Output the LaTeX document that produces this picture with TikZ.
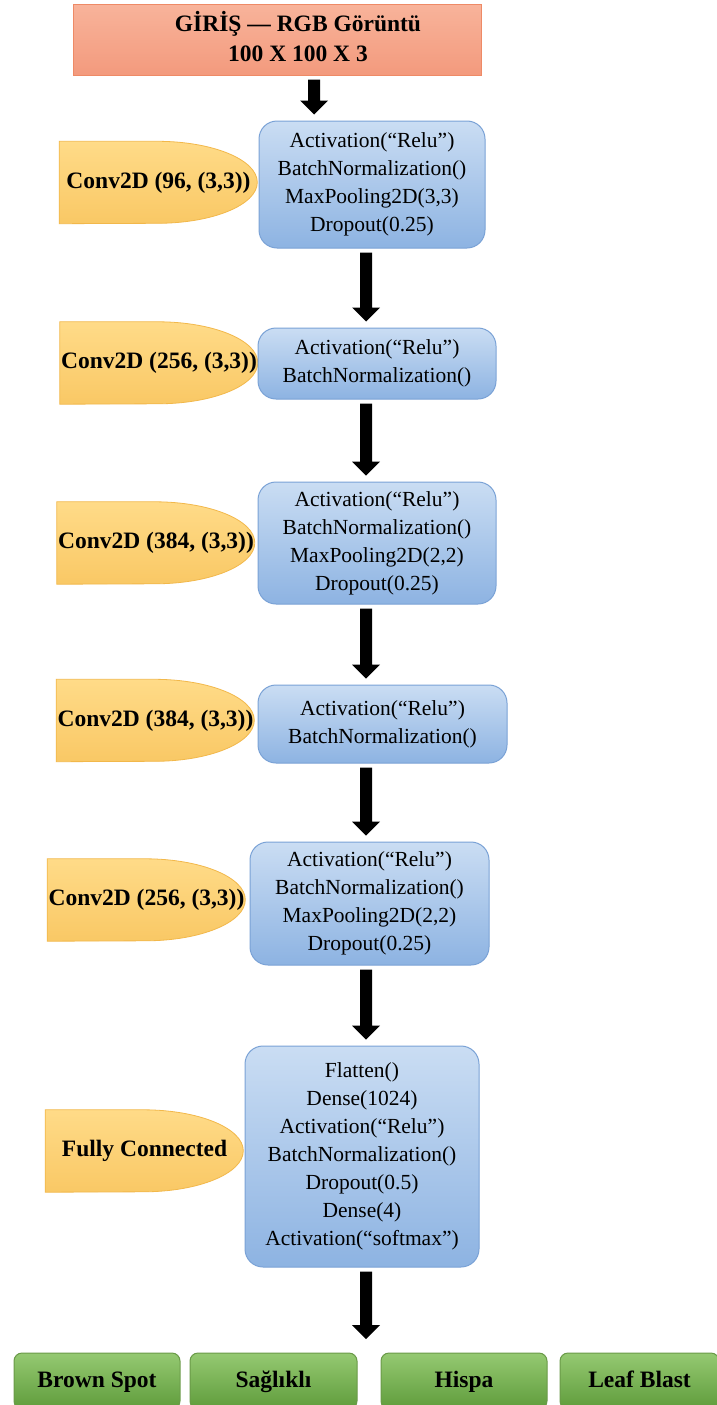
\documentclass[tikz,border=0pt]{standalone}
\usepackage{fontspec}
\setmainfont{Liberation Serif}
\usetikzlibrary{calc}

\definecolor{bluetop}{HTML}{CADDF3}
\definecolor{bluebot}{HTML}{8DB3E2}
\definecolor{blueedge}{HTML}{7AA2D6}
\definecolor{yeltop}{HTML}{FFDB88}
\definecolor{yelbot}{HTML}{F9C865}
\definecolor{yeledge}{HTML}{F2B84B}
\definecolor{saltop}{HTML}{F8B39A}
\definecolor{salbot}{HTML}{F39A7D}
\definecolor{saledge}{HTML}{EE8A66}
\definecolor{grntop}{HTML}{95C972}
\definecolor{grnbot}{HTML}{5F9C3B}
\definecolor{grnedge}{HTML}{6A9A48}

\pgfdeclarelayer{bg}
\pgfsetlayers{bg,main}

\tikzset{
  layerbox/.style={draw=blueedge, line width=1pt, rounded corners=18pt,
    top color=bluetop, bottom color=bluebot, align=center,
    font=\fontsize{21.5}{28}\selectfont, inner sep=0pt},
  inputbox/.style={draw=saledge, line width=1pt, top color=saltop,
    bottom color=salbot, inner sep=0pt},
  inputtext/.style={align=center, font=\fontsize{23.5}{30}\selectfont\bfseries, inner sep=0pt},
  convlabel/.style={align=center, font=\fontsize{23.5}{28}\selectfont\bfseries,
    inner sep=0pt, minimum width=198pt, minimum height=82pt},
  convshape/.style={draw=yeledge, line width=0.8pt, top color=yeltop, bottom color=yelbot},
  classbox/.style={draw=grnedge, line width=1pt, rounded corners=8pt,
    top color=grntop, bottom color=grnbot,
    font=\fontsize{23.5}{28}\selectfont\bfseries, inner sep=0pt,
    text height=17pt, text depth=5pt, minimum height=56pt},
  arrowfill/.style={fill=black},
}

% yellow label tab: straight left part, half-ellipse on the right
\newcommand\convblob[1]{%
  \begin{pgfonlayer}{bg}
    \path[convshape] (#1.north west) -- ($(#1.north west)+(98,0)$)
      arc[start angle=90, end angle=-90, x radius=100pt, y radius=41pt]
      -- (#1.south west) -- cycle;
  \end{pgfonlayer}}

% thick block arrow from anchor #1 down to anchor #2 along the vertical through #3
\newcommand\flowarrow[3]{%
  \coordinate (fa-s) at ($(#1 -| #3)+(0,-4)$);
  \coordinate (fa-t) at ($(#2 -| #3)+(0,6)$);
  \fill[arrowfill] ($(fa-s)+(-6,0)$) -- ($(fa-t)+(-6,14)$) -- ($(fa-t)+(-14,14)$)
    -- (fa-t) -- ($(fa-t)+(14,14)$) -- ($(fa-t)+(6,14)$) -- ($(fa-s)+(6,0)$) -- cycle;}

\begin{document}
\begin{tikzpicture}[x=1pt, y=1pt]
\useasboundingbox (0,0) rectangle (717,-1405);
\begin{pgfonlayer}{bg}
  \fill[white] (0,0) rectangle (717,-1405);
\end{pgfonlayer}

\coordinate (ax1) at (314,0);
\coordinate (ax) at (366,0);

% input
\node[inputbox, minimum width=408pt, minimum height=70pt] (in) at (277,-40) {};
\node[inputtext] (intext) at ($(in.center)+(21,3)$)
  {GİRİŞ --- RGB Görüntü\\100 X 100 X 3};

% layer blocks
\node[layerbox, minimum width=226pt, minimum height=127pt] (b1) at (372,-184.5)
  {Activation(“Relu”)\\BatchNormalization()\\MaxPooling2D(3,3)\\Dropout(0.25)};
\node[layerbox, minimum width=238pt, minimum height=71pt] (b2) at (377,-363.5)
  {Activation(“Relu”)\\BatchNormalization()};
\node[layerbox, minimum width=238pt, minimum height=122pt] (b3) at (377,-543)
  {Activation(“Relu”)\\BatchNormalization()\\MaxPooling2D(2,2)\\Dropout(0.25)};
\node[layerbox, minimum width=249pt, minimum height=78pt] (b4) at (382.5,-724)
  {Activation(“Relu”)\\BatchNormalization()};
\node[layerbox, minimum width=239pt, minimum height=123pt] (b5) at (369.5,-903.5)
  {Activation(“Relu”)\\BatchNormalization()\\MaxPooling2D(2,2)\\Dropout(0.25)};
\node[layerbox, minimum width=234pt, minimum height=221pt] (b6) at (362,-1156.5)
  {Flatten()\\Dense(1024)\\Activation(“Relu”)\\BatchNormalization()\\Dropout(0.5)\\Dense(4)\\Activation(“softmax”)};

% layer labels
\node[convlabel] (c1) at (158.5,-182.5) {Conv2D (96, (3,3))};
\node[convlabel] (c2) at (159,-363) {Conv2D (256, (3,3))};
\node[convlabel] (c3) at (156,-543) {Conv2D (384, (3,3))};
\node[convlabel] (c4) at (155.5,-720.5) {Conv2D (384, (3,3))};
\node[convlabel] (c5) at (146.5,-900) {Conv2D (256, (3,3))};
\node[convlabel] (c6) at (144.5,-1151) {Fully Connected};
\convblob{c1}\convblob{c2}\convblob{c3}\convblob{c4}\convblob{c5}\convblob{c6}

% output classes
\node[classbox, minimum width=166pt] (g1) at (97,-1381) {Brown Spot};
\node[classbox, minimum width=167pt] (g2) at (273.5,-1381) {Sağlıklı};
\node[classbox, minimum width=166pt] (g3) at (464,-1381) {Hispa};
\node[classbox, minimum width=159pt] (g4) at (639.5,-1381) {Leaf Blast};
\coordinate (out) at (366,-1345);

% flow arrows
\flowarrow{in.south}{b1.north}{ax1}
\flowarrow{b1.south}{b2.north}{ax}
\flowarrow{b2.south}{b3.north}{ax}
\flowarrow{b3.south}{b4.north}{ax}
\flowarrow{b4.south}{b5.north}{ax}
\flowarrow{b5.south}{b6.north}{ax}
\flowarrow{b6.south}{out}{ax}
\end{tikzpicture}
\end{document}
